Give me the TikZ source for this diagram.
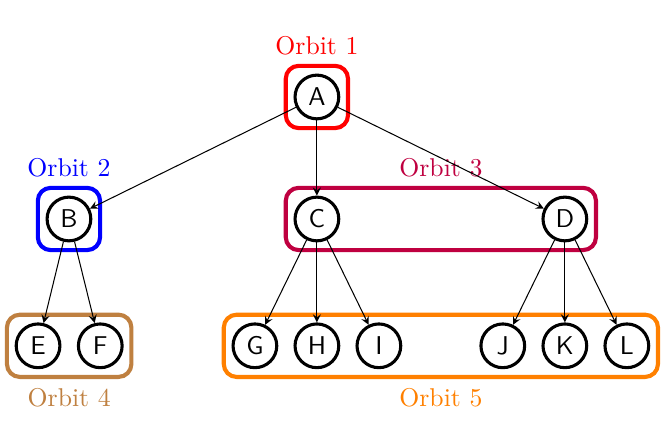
\documentclass[tikz,border=0pt]{standalone}
\usepackage{amsmath,amssymb,tikz}
\usepackage{xcolor}
\usetikzlibrary{fit}

\begin{document}
\begin{tikzpicture}[
            st/.style={circle, draw, very thick, minimum size=17pt, inner sep=0pt, font=\sffamily},
            orbit/.style={rectangle, draw, ultra thick, rounded corners=5pt, inner sep=3pt},
            >=stealth]
            \useasboundingbox (-4.33, -4.645) rectangle (4.77, 1.325);

            \node[st] (a) at (0, 0) {A};
            \node[st] (b) at (-3.388, -1.667) {B};
            \node[st] (c) at (0, -1.667) {C};
            \node[st] (d) at (3.388, -1.667) {D};
            \node[st] (e) at (-3.81, -3.4) {E};
            \node[st] (f) at (-2.96, -3.4) {F};
            \node[st] (g) at (-0.847, -3.4) {G};
            \node[st] (h) at (0, -3.4) {H};
            \node[st] (i) at (0.847, -3.4) {I};
            \node[st] (j) at (2.54, -3.4) {J};
            \node[st] (k) at (3.388, -3.4) {K};
            \node[st] (l) at (4.235, -3.4) {L};

            \node[orbit, red, fit=(a), label={[red]above:Orbit 1}] (o1) {};
            \node[orbit, blue, fit=(b), label={[blue]above:Orbit 2}] (o2) {};
            \node[orbit, purple, fit=(c) (d), label={[purple]above:Orbit 3}] (o3) {};
            \node[orbit, brown, fit=(e) (f), label={[brown]below:Orbit 4}] (o4) {};
            \node[orbit, orange, fit=(g) (l), label={[orange]below:Orbit 5}] (o5) {};

            \foreach \s/\t in {a/b, a/c, a/d, b/e, b/f, c/g, c/h, c/i, d/j, d/k, d/l}
                \draw[->] (\s) -- (\t);
        \end{tikzpicture}
\end{document}
